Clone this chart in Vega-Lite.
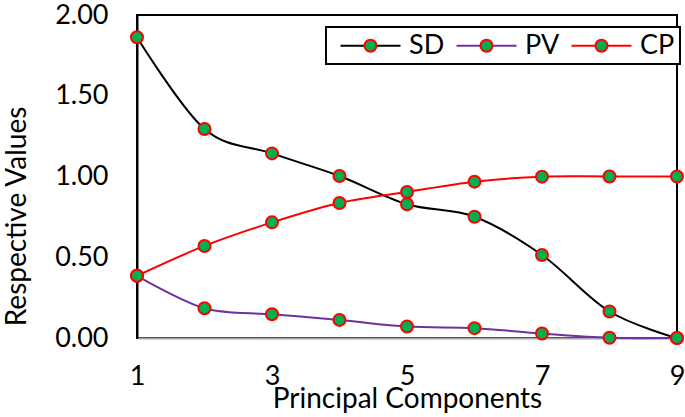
{
  "$schema": "https://vega.github.io/schema/vega-lite/v6.json",
  "width": 540,
  "height": 323,
  "autosize": {"type": "none"},
  "padding": {"left": 137, "top": 15, "right": 8, "bottom": 79},
  "background": "white",
  "config": {
    "view": {"stroke": "black", "strokeWidth": 2},
    "font": "Lato",
    "axis": {"grid": false, "ticks": false, "tickSize": 0, "labelFont": "Lato", "titleFont": "Lato", "labelFontSize": 27, "titleFontSize": 28, "labelColor": "black", "titleColor": "black", "titleFontWeight": "normal"},
    "legend": {"labelFont": "Lato", "labelFontSize": 27, "labelColor": "black", "strokeWidth": 2}
  },
  "data": {
    "values": [
      {"pc": 1, "series": "SD", "value": 1.862},
      {"pc": 2, "series": "SD", "value": 1.294},
      {"pc": 3, "series": "SD", "value": 1.143},
      {"pc": 4, "series": "SD", "value": 1.003},
      {"pc": 5, "series": "SD", "value": 0.828},
      {"pc": 6, "series": "SD", "value": 0.751},
      {"pc": 7, "series": "SD", "value": 0.514},
      {"pc": 8, "series": "SD", "value": 0.164},
      {"pc": 9, "series": "SD", "value": 0.0},
      {"pc": 1, "series": "PV", "value": 0.385},
      {"pc": 2, "series": "PV", "value": 0.184},
      {"pc": 3, "series": "PV", "value": 0.147},
      {"pc": 4, "series": "PV", "value": 0.112},
      {"pc": 5, "series": "PV", "value": 0.071},
      {"pc": 6, "series": "PV", "value": 0.061},
      {"pc": 7, "series": "PV", "value": 0.028},
      {"pc": 8, "series": "PV", "value": 0.002},
      {"pc": 9, "series": "PV", "value": 0.0},
      {"pc": 1, "series": "CP", "value": 0.385},
      {"pc": 2, "series": "CP", "value": 0.570},
      {"pc": 3, "series": "CP", "value": 0.716},
      {"pc": 4, "series": "CP", "value": 0.836},
      {"pc": 5, "series": "CP", "value": 0.904},
      {"pc": 6, "series": "CP", "value": 0.968},
      {"pc": 7, "series": "CP", "value": 0.999},
      {"pc": 8, "series": "CP", "value": 1.0},
      {"pc": 9, "series": "CP", "value": 1.0}
    ]
  },
  "encoding": {
    "x": {
      "field": "pc", "type": "quantitative",
      "scale": {"domain": [1, 9], "nice": false, "zero": false},
      "axis": {"values": [1, 3, 5, 7, 9], "title": "Principal Components", "domainColor": "#A6A6A6", "domainWidth": 2, "labelPadding": 25, "labelFlush": false, "titleBaseline": "alphabetic", "titleY": 69, "titleX": 270, "titleAnchor": "middle"}
    },
    "y": {
      "field": "value", "type": "quantitative",
      "scale": {"domain": [0, 2], "nice": false},
      "axis": {"values": [0, 0.5, 1, 1.5, 2], "format": ".2f", "title": "Respective Values", "domainColor": "black", "domainWidth": 2, "labelPadding": 29, "titleBaseline": "alphabetic", "titleAngle": -90, "titleX": -112, "titleY": 201, "titleAlign": "center"}
    }
  },
  "layer": [
    {
      "mark": {"type": "line", "interpolate": "cardinal", "strokeWidth": 2},
      "encoding": {
        "stroke": {
          "field": "series", "type": "nominal",
          "scale": {"domain": ["SD", "PV", "CP"], "range": ["#000000", "#7030A0", "#FF0000"]},
          "legend": {"title": null, "orient": "none", "legendX": 189, "legendY": 12, "direction": "horizontal", "symbolType": "M-5,0H5", "symbolSize": 144, "symbolStrokeWidth": 2, "symbolOffset": 26, "labelOffset": 25, "columnPadding": 2, "padding": 5, "strokeColor": "black", "fillColor": "white"}
        },
        "detail": {"field": "series", "type": "nominal"}
      }
    },
    {
      "mark": {"type": "point", "shape": "circle", "filled": true, "size": 144, "stroke": "#FF0000", "strokeWidth": 2, "opacity": 1},
      "encoding": {
        "fill": {
          "field": "series", "type": "nominal",
          "sort": ["SD", "PV", "CP"],
          "scale": {"range": ["#00B050", "#00B050", "#00B050"]},
          "legend": {"title": null, "orient": "none", "legendX": 189, "legendY": 12, "direction": "horizontal", "symbolType": "M-5,0M5,0M-1,0A1,1,0,1,1,1,0A1,1,0,1,1,-1,0Z", "symbolSize": 144, "symbolStrokeColor": "#FF0000", "symbolStrokeWidth": 2, "symbolOpacity": 1, "symbolOffset": 26, "labelOffset": 25, "columnPadding": 2, "padding": 5, "labelColor": "transparent"}
        }
      }
    }
  ]
}
